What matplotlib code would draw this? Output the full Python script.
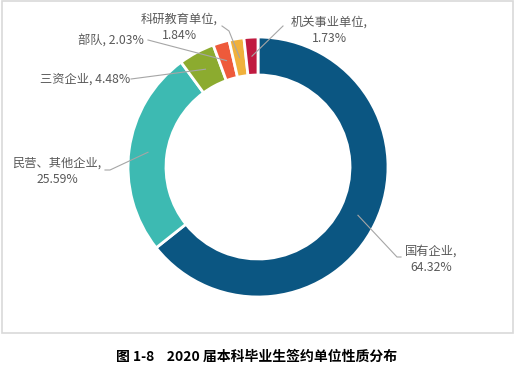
import numpy as np
import matplotlib
matplotlib.use('Agg')
import matplotlib.pyplot as plt
from matplotlib.patches import Rectangle

plt.rcParams['font.family'] = ['Noto Sans CJK SC', 'DejaVu Sans']

# data
categories = ['国有企业', '民营、其他企业', '三资企业', '部队', '科研教育单位', '机关事业单位']
shares = [64.32, 25.59, 4.48, 2.03, 1.84, 1.73]
colors = ['#0b5682', '#3dbab2', '#8cab2f', '#ee5a3b', '#f0b13c', '#c01a40']
caption = '图 1-8    2020 届本科毕业生签约单位性质分布'

W, H = 517, 370
fig = plt.figure(figsize=(W / 100, H / 100), dpi=100)
ax = fig.add_axes([0, 0, 1, 1])

# frame around chart area
ax.add_patch(Rectangle((2, H - 333), 511, 332, fill=False, ec='#d9d9d9', lw=1.2))

cx, cy, R, ring = 258, H - 167, 130, 38
wedges, _ = ax.pie(shares, colors=colors, startangle=90, counterclock=False,
                   radius=R, center=(cx, cy), frame=True,
                   wedgeprops=dict(width=ring, edgecolor='white', linewidth=2))
ax.set_xlim(0, W)
ax.set_ylim(0, H)
ax.set_aspect('equal')
ax.axis('off')

# label layout (image coords): text centre, line end points
labels = [
    ('国有企业,\n64.32%', (431, 259), [(397, 257), (401, 257)]),
    ('民营、其他企业,\n25.59%', (57, 171), [(110, 170), (105, 170)]),
    ('三资企业, 4.48%', (85, 79), [(131, 79)]),
    ('部队, 2.03%', (111, 41), [(148, 40)]),
    ('科研教育单位,\n1.84%', (179, 27), [(229, 31), (222, 26)]),
    ('机关事业单位,\n1.73%', (329, 30), [(283, 26)]),
]

for w, (txt, pos, pts) in zip(wedges, labels):
    ang = np.deg2rad((w.theta1 + w.theta2) / 2)
    r = R - ring / 2
    x0, y0 = cx + r * np.cos(ang), cy + r * np.sin(ang)
    xs = [x0] + [p[0] for p in pts]
    ys = [y0] + [H - p[1] for p in pts]
    ax.plot(xs, ys, color='#a6a6a6', lw=0.8)
    ax.text(pos[0], H - pos[1], txt, ha='center', va='center', fontsize=8.8,
            color='#595959', linespacing=1.35)

fig.text(257 / W, 1 - 357 / H, caption, ha='center', va='center',
         fontsize=10, fontweight='bold', color='black')

fig.savefig('out.png', dpi=100)
